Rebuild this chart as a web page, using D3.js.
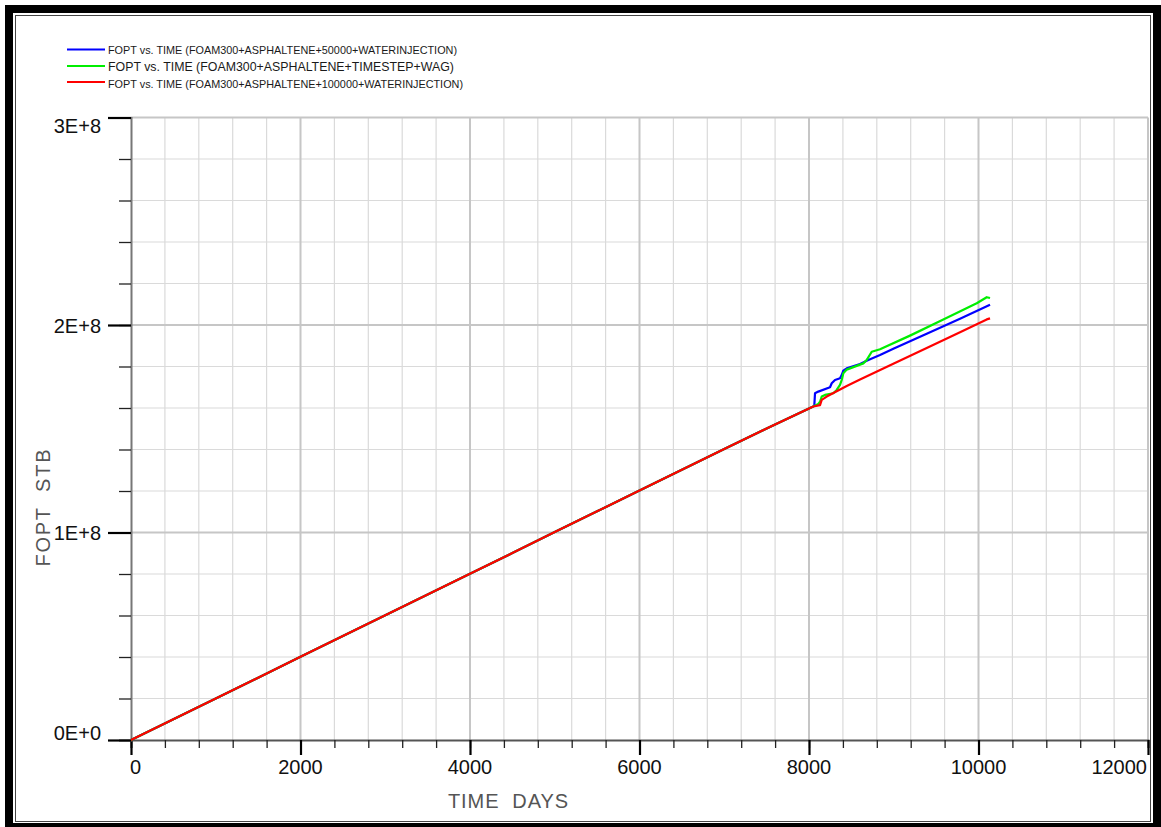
<!DOCTYPE html>
<html>
<head>
<meta charset="utf-8">
<script src="https://cdn.jsdelivr.net/npm/d3@7"></script>
<style>
  html, body { margin: 0; padding: 0; background: #fff; }
  svg { display: block; }
  text { font-family: "Liberation Sans", Arial, sans-serif; }
</style>
</head>
<body>
<svg id="chart" width="1161" height="827"></svg>
<script>
// ---- data: cumulative field oil production (FOPT, STB) vs. time (days) ----
const sharedDays = [0, 500, 1000, 1500, 2000, 2500, 3000, 3500, 4000, 4500, 5000, 5500, 6000, 6500, 7000, 7500, 8000, 8050];
const sharedFopt = [0, 1.00e7, 2.00e7, 3.00e7, 4.01e7, 5.01e7, 6.01e7, 7.01e7, 8.01e7, 9.01e7, 1.002e8, 1.102e8, 1.202e8, 1.302e8, 1.402e8, 1.501e8, 1.598e8, 1.607e8];

const blueDays = [8063, 8071, 8110, 8248, 8268, 8307, 8366, 8386, 8405, 8445, 8602, 8700, 8838, 8995, 9389, 9782, 10136];
const blueFopt = [1.614e8, 1.671e8, 1.679e8, 1.700e8, 1.719e8, 1.735e8, 1.743e8, 1.759e8, 1.780e8, 1.791e8, 1.812e8, 1.831e8, 1.855e8, 1.885e8, 1.958e8, 2.030e8, 2.098e8];

const greenDays = [8110, 8130, 8150, 8189, 8287, 8327, 8366, 8386, 8405, 8445, 8641, 8680, 8740, 8838, 9198, 9585, 9979, 10097, 10136];
const greenFopt = [1.620e8, 1.630e8, 1.655e8, 1.663e8, 1.671e8, 1.687e8, 1.711e8, 1.735e8, 1.767e8, 1.785e8, 1.815e8, 1.831e8, 1.871e8, 1.883e8, 1.950e8, 2.026e8, 2.105e8, 2.134e8, 2.130e8];

const redDays = [8130, 8150, 8209, 8445, 8602, 8995, 9389, 9782, 10097, 10136];
const redFopt = [1.614e8, 1.639e8, 1.655e8, 1.706e8, 1.737e8, 1.813e8, 1.889e8, 1.965e8, 2.027e8, 2.032e8];

const seriesNames = [
  "FOPT vs. TIME (FOAM300+ASPHALTENE+50000+WATERINJECTION)",
  "FOPT vs. TIME (FOAM300+ASPHALTENE+TIMESTEP+WAG)",
  "FOPT vs. TIME (FOAM300+ASPHALTENE+100000+WATERINJECTION)"
];
const seriesColors = ["#0000ff", "#00ee00", "#ff0000"];

const xMajorTicks = [0, 2000, 4000, 6000, 8000, 10000, 12000];
const xMinorTicks = d3.range(0, 12001, 400);
const yMajorTicks = [0, 1e8, 2e8, 3e8];
const yMinorTicks = d3.range(0, 3e8 + 1, 2e7);
const yTickLabels = ["0E+0", "1E+8", "2E+8", "3E+8"];
const xTitle = "TIME  DAYS";
const yTitle = "FOPT  STB";

// ---- layout ----
const svg = d3.select("#chart");
const x = d3.scaleLinear().domain([0, 12000]).range([131, 1148]);
const y = d3.scaleLinear().domain([0, 3e8]).range([740, 117.5]);

// window frame
svg.append("rect").attr("x", 5).attr("y", 5).attr("width", 1156).attr("height", 822).attr("fill", "#000");
svg.append("rect").attr("x", 13).attr("y", 13).attr("width", 1140).attr("height", 810).attr("fill", "#fff");
svg.append("rect").attr("x", 15.5).attr("y", 15.5).attr("width", 1135).attr("height", 806)
  .attr("fill", "none").attr("stroke", "#444").attr("stroke-width", 1);

// grid
const grid = svg.append("g");
grid.selectAll("line.vminor").data(xMinorTicks.filter(d => !xMajorTicks.includes(d)))
  .join("line").attr("x1", d => x(d)).attr("x2", d => x(d)).attr("y1", y(3e8)).attr("y2", y(0))
  .attr("stroke", "#dadada").attr("stroke-width", 1.2);
grid.selectAll("line.hminor").data(yMinorTicks.filter(d => !yMajorTicks.includes(d)))
  .join("line").attr("x1", x(0)).attr("x2", x(12000)).attr("y1", d => y(d)).attr("y2", d => y(d))
  .attr("stroke", "#dadada").attr("stroke-width", 1.2);
grid.selectAll("line.vmajor").data(xMajorTicks.slice(1))
  .join("line").attr("class", "vmajor").attr("x1", d => x(d)).attr("x2", d => x(d)).attr("y1", y(3e8)).attr("y2", y(0))
  .attr("stroke", "#c6c6c6").attr("stroke-width", 2);
grid.selectAll("line.hmajor").data(yMajorTicks.slice(1))
  .join("line").attr("class", "hmajor").attr("x1", x(0)).attr("x2", x(12000)).attr("y1", d => y(d)).attr("y2", d => y(d))
  .attr("stroke", "#c6c6c6").attr("stroke-width", 2);

// axes
const xAxisMinor = d3.axisBottom(x).tickValues(xMinorTicks).tickSize(8).tickFormat("");
const xAxisMajor = d3.axisBottom(x).tickValues(xMajorTicks).tickSize(15).tickFormat("");
const yAxisMinor = d3.axisLeft(y).tickValues(yMinorTicks).tickSize(12).tickFormat("");
const yAxisMajor = d3.axisLeft(y).tickValues(yMajorTicks).tickSize(23).tickFormat("");

const gxMinor = svg.append("g").attr("transform", `translate(0,${y(0)})`).call(xAxisMinor);
gxMinor.select(".domain").attr("stroke", "#555").attr("stroke-width", 2);
gxMinor.selectAll(".tick line").attr("stroke", "#222").attr("stroke-width", 1.3);
const gxMajor = svg.append("g").attr("transform", `translate(0,${y(0)})`).call(xAxisMajor);
gxMajor.select(".domain").remove();
gxMajor.selectAll(".tick line").attr("stroke", "#000").attr("stroke-width", 2.2);

const gyMinor = svg.append("g").attr("transform", `translate(${x(0)},0)`).call(yAxisMinor);
gyMinor.select(".domain").attr("stroke", "#777").attr("stroke-width", 2);
gyMinor.selectAll(".tick line").attr("stroke", "#222").attr("stroke-width", 1.3);
const gyMajor = svg.append("g").attr("transform", `translate(${x(0)},0)`).call(yAxisMajor);
gyMajor.select(".domain").remove();
gyMajor.selectAll(".tick line").attr("stroke", "#000").attr("stroke-width", 2.2);

// tick labels
svg.append("g").selectAll("text").data(xMajorTicks).join("text")
  .attr("x", (d, i) => i === 0 ? x(d) - 1 : (i === xMajorTicks.length - 1 ? x(d) - 1 : x(d)))
  .attr("y", 774)
  .attr("text-anchor", (d, i) => i === 0 ? "start" : (i === xMajorTicks.length - 1 ? "end" : "middle"))
  .attr("font-size", 20).attr("fill", "#111")
  .text(d => d3.format("d")(d));

svg.append("g").selectAll("text").data(yMajorTicks).join("text")
  .attr("x", 101)
  .attr("y", (d, i) => i === 0 ? y(d) : (i === yMajorTicks.length - 1 ? y(d) + 15 : y(d) + 7.5))
  .attr("text-anchor", "end")
  .attr("font-size", 20).attr("fill", "#111")
  .text((d, i) => yTickLabels[i]);

// axis titles
svg.append("text").attr("x", 508).attr("y", 808).attr("text-anchor", "middle")
  .attr("font-size", 20).attr("fill", "#555").style("white-space", "pre")
  .attr("textLength", 120).attr("lengthAdjust", "spacing")
  .text(xTitle);
svg.append("text").attr("transform", "translate(50,508) rotate(-90)").attr("text-anchor", "middle")
  .attr("font-size", 20).attr("fill", "#555").style("white-space", "pre")
  .attr("textLength", 117).attr("lengthAdjust", "spacing")
  .text(yTitle);

// series
const line = d3.line().x(d => x(d[0])).y(d => y(d[1]));
const makeSeries = (days, fopt) =>
  sharedDays.map((d, i) => [d, sharedFopt[i]]).concat(days.map((d, i) => [d, fopt[i]]));
const series = [
  makeSeries(blueDays, blueFopt),
  makeSeries(greenDays, greenFopt),
  makeSeries(redDays, redFopt)
];
svg.append("g").selectAll("path").data(series).join("path")
  .attr("d", line).attr("fill", "none")
  .attr("stroke", (d, i) => seriesColors[i]).attr("stroke-width", 2.2)
  .attr("stroke-linejoin", "round");

// legend
const legendY = [49.5, 66, 82];
const legendBase = [54, 71, 88];
const legendSize = [11, 13.5, 11.5];
const legendLen = [349, 346, 355];
const lg = svg.append("g");
seriesNames.forEach((name, i) => {
  lg.append("line").attr("x1", 67).attr("x2", 105).attr("y1", legendY[i]).attr("y2", legendY[i])
    .attr("stroke", seriesColors[i]).attr("stroke-width", 2.2);
  lg.append("text").attr("x", 108).attr("y", legendBase[i])
    .attr("font-size", legendSize[i]).attr("fill", "#1a1a1a")
    .attr("textLength", legendLen[i]).attr("lengthAdjust", "spacingAndGlyphs")
    .text(name);
});
</script>
</body>
</html>
